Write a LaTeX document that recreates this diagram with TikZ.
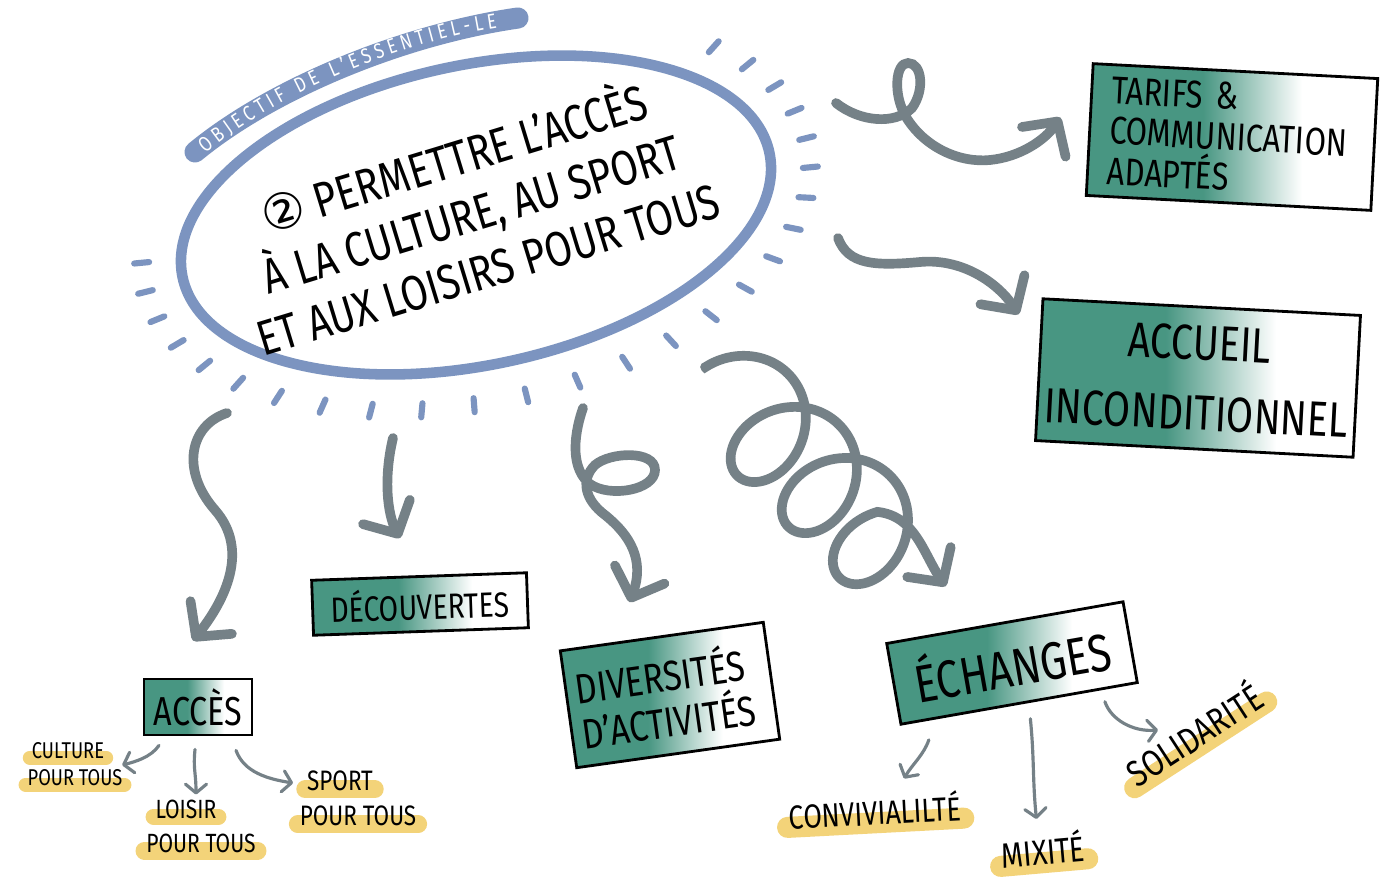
\documentclass[tikz,border=0pt]{standalone}
\usepackage{fontspec}
\setmainfont{Fira Sans}[FakeStretch=0.8]
\newfontfamily\symb{DejaVu Sans}
\usetikzlibrary{arrows.meta,calc,backgrounds,decorations.text,shapes.geometric}

\definecolor{bleu}{RGB}{124,148,192}
\definecolor{gris}{RGB}{117,129,135}
\definecolor{sarcelle}{RGB}{72,150,130}
\definecolor{jaune}{RGB}{242,204,98}
\pgfdeclarehorizontalshading{brush}{100bp}{color(0bp)=(sarcelle); color(45bp)=(sarcelle); color(62bp)=(white); color(100bp)=(white)}
\newcommand{\taille}[2]{\fontsize{#1}{#2}\selectfont}

\begin{document}
\begin{tikzpicture}[
    x=0.02cm, y=-0.02cm,
    boite/.style={draw=black, line width=1.6pt, shade, shading=brush, inner sep=0pt},
    feuille/.style={inner sep=1pt},
    fleche/.style={draw=gris, line width=5.5pt, line cap=round, -{Straight Barb[round, length=14pt, width=30pt]}},
    petite/.style={draw=gris, line width=1.8pt, line cap=round, -{Straight Barb[round, length=5pt, width=12pt]}},
    rayon/.style={draw=bleu, line width=3.5pt, line cap=round},
    surligne/.style={draw=jaune, line cap=round, opacity=.85}
]
\path[use as bounding box] (0,0) rectangle (1382,877);

% ========== OBJECTIF (CENTRE) ==========
\node[draw=bleu, line width=6pt, ellipse, minimum width=12cm, minimum height=6cm, rotate=12, inner sep=0pt] (obj) at (476,215) {};
\node[rotate=17, align=center, font=\taille{28}{33}] (objtxt) at (470,210) {{\symb ②} PERMETTRE L'ACCÈS\\À LA CULTURE, AU SPORT\\ET AUX LOISIRS POUR TOUS};

% rays round the ellipse
\begin{scope}[shift={(obj.center)}, rotate=12]
  \foreach \t in {187,178,...,-38}
    \draw[rayon] (\t:332 and 180) -- (\t:347 and 194);
\end{scope}

% banner
\coordinate (b1) at (195,152);
\coordinate (b2) at (518,18);
\draw[bleu, line width=12pt, line cap=round] (b1) .. controls (270,90) and (400,35) .. (b2);
\path[decorate, decoration={text along path, text={|\taille{12}{12}|OBJECTIF DE L'ESSENTIEL-LE}, text color=white, text align={fit to path}, raise=-4pt}]
  ($(b1)+(6,-4)$) .. controls (272,88) and (395,36) .. ($(b2)+(-22,3)$);

% ========== BOXES ==========
\node[boite, rotate=-3, text width=4.9cm, inner xsep=0.4cm, minimum height=2.64cm, align=left, font=\taille{22}{23}] (tarifs) at (1232,137) {TARIFS \&\\COMMUNICATION\\ADAPTÉS};
\node[boite, rotate=-3, minimum width=6.36cm, minimum height=2.84cm, align=center, font=\taille{28}{40}] (accueil) at (1198,378) {ACCUEIL\\INCONDITIONNEL};
\node[boite, rotate=2, minimum width=4.3cm, minimum height=1.1cm, font=\taille{20}{20}] (decouv) at (420,604) {DÉCOUVERTES};
\node[boite, minimum width=2.16cm, minimum height=1.12cm, font=\taille{23}{23}] (acces) at (198,707) {ACCÈS};
\node[boite, rotate=8, text width=3.7cm, inner xsep=0.2cm, minimum height=2.36cm, align=left, font=\taille{24}{26}] (divers) at (670,695) {DIVERSITÉS\\D'ACTIVITÉS};
\node[boite, rotate=10, minimum width=4.8cm, minimum height=1.64cm, font=\taille{30}{30}] (echanges) at (1012,663) {ÉCHANGES};

% ========== LEAVES ==========
\node[feuille, font=\taille{13}{13}] (cult1) at (68,751) {CULTURE};
\node[feuille, font=\taille{13}{13}] (cult2) at (75,778) {POUR TOUS};
\node[feuille, font=\taille{15}{15}] (lois1) at (186,809) {LOISIR};
\node[feuille, font=\taille{15}{15}] (lois2) at (201,843) {POUR TOUS};
\node[feuille, font=\taille{16}{16}] (spo1) at (340,781) {SPORT};
\node[feuille, font=\taille{16}{16}] (spo2) at (358,816) {POUR TOUS};
\node[feuille, rotate=3, font=\taille{19}{19}] (conv) at (875,810) {CONVIVIALILTÉ};
\node[feuille, rotate=5, font=\taille{20}{20}] (mix) at (1043,849) {MIXITÉ};
\node[feuille, rotate=33, font=\taille{21}{21}] (soli) at (1193,733) {SOLIDARITÉ};

% ========== BIG ARROWS ==========
\coordinate (s1) at (836,103);
\coordinate (s2) at (838,238);
\coordinate (s3) at (227,413);
\coordinate (s4) at (393,438);
\coordinate (s5) at (583,408);
\coordinate (s6) at (705,367);

\draw[fleche] (s1) .. controls (860,122) and (895,125) .. (912,108) .. controls (925,90) and (922,63) .. (908,63)
  .. controls (895,63) and (893,95) .. (906,117) .. controls (925,148) and (960,163) .. (990,160)
  .. controls (1020,157) and (1045,140) .. ($(tarifs.west)+(-28,-12)$);
\draw[fleche] (s2) .. controls (848,265) and (875,266) .. (920,262) .. controls (962,258) and (998,283) .. ($(accueil.north west)+(-23,17)$);
\draw[fleche] (s3) .. controls (190,425) and (180,470) .. (215,510) .. controls (250,550) and (225,600) .. ($(acces.north)+(-5,-37)$);
\draw[fleche] (s4) .. controls (383,480) and (388,515) .. ($(decouv.north)+(-19,-37)$);
\draw[fleche] (s5) .. controls (572,440) and (572,470) .. (590,484) .. controls (610,498) and (655,490) .. (655,470)
  .. controls (655,450) and (610,452) .. (595,465) .. controls (580,480) and (585,500) .. (605,515)
  .. controls (630,535) and (645,560) .. ($(divers.north)+(-32,-33)$);
\draw[fleche] (s6) -- plot[variable=\t, domain=-1.5708:17.65, samples=220, smooth]
  ({749.8 + 0.707*(11.5*\t + 45*sin(\t r)) + 0.707*54*cos(\t r)}, {411.8 + 0.707*(11.5*\t + 45*sin(\t r)) - 0.707*54*cos(\t r)})
  .. controls +(38,4) and +(-22,-32) .. ($(echanges.north)+(-59,-35)$);

% ========== SMALL ARROWS ==========
\draw[petite] ($(acces.south)+(-39,9)$) .. controls +(-8,12) and +(12,-3) .. ($(cult1.east)+(16,14)$);
\draw[petite] ($(acces.south)+(-3,13)$) .. controls +(-2,20) and +(0,-22) .. ($(lois1.north)+(10,-3)$);
\draw[petite] ($(acces.south)+(38,14)$) .. controls +(8,22) and +(-25,-4) .. ($(spo1.west)+(-12,2)$);
\draw[petite] ($(echanges.south west)+(29,14)$) .. controls +(-5,15) and +(8,-14) .. ($(conv.north)+(30,-14)$);
\draw[petite] ($(echanges.south)+(11,14)$) .. controls +(4,40) and +(-4,-40) .. ($(mix.north)+(-5,-12)$);
\draw[petite] ($(echanges.south east)+(-34,18)$) .. controls +(6,18) and +(-25,2) .. ($(soli.center)+(-35,-3)$);

% ========== HIGHLIGHTS ==========
\begin{scope}[on background layer]
  \fill[white] (0,0) rectangle (1382,877);
  \foreach \n/\w in {cult1/8pt, cult2/8pt, lois1/9pt, lois2/10pt, spo1/10pt, spo2/10pt, conv/12pt, mix/12pt, soli/12pt}
    \draw[surligne, line width=\w] ($(\n.base west)!.15!(\n.west)$) -- ($(\n.base east)!.15!(\n.east)$);
\end{scope}

\end{tikzpicture}
\end{document}
